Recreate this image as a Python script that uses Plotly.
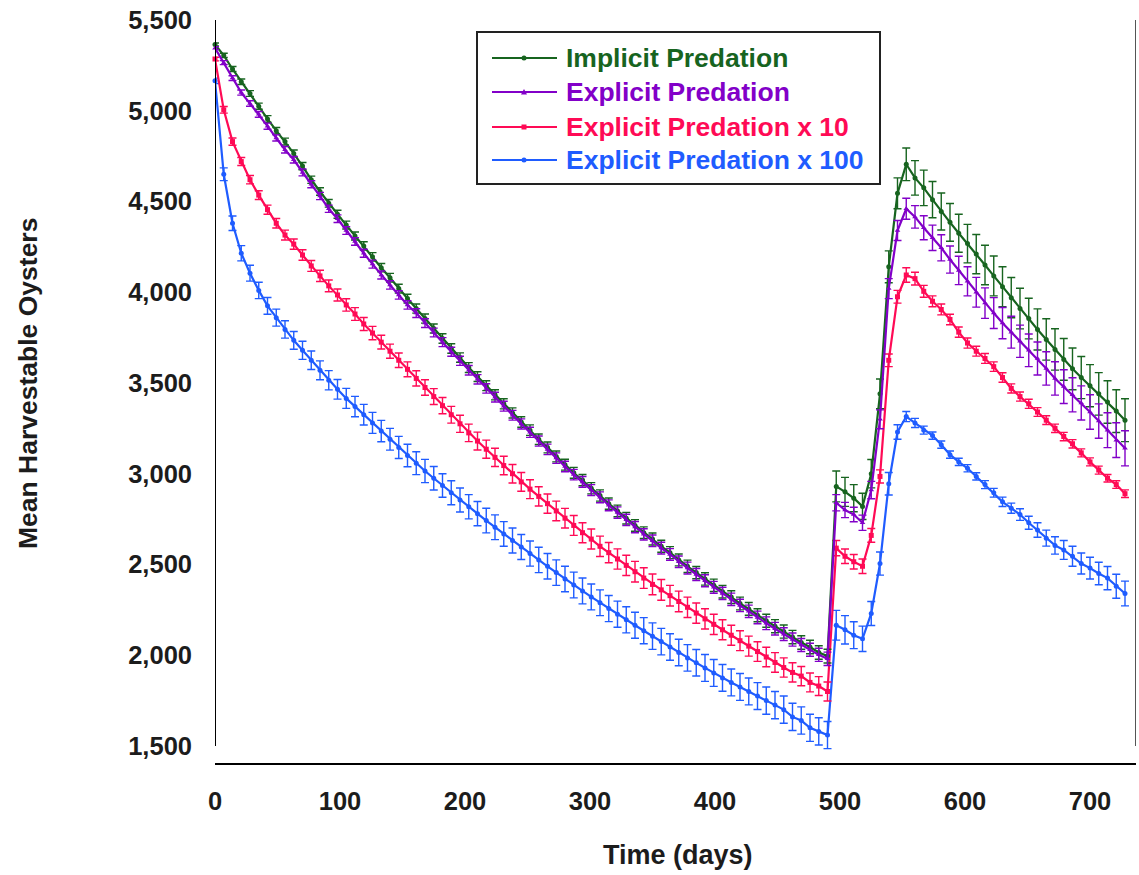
import plotly.graph_objects as go

# Sampling days (weekly) for every series
days = list(range(0, 735, 7))

# Mean harvestable oysters per scenario
implicit = [
    5365, 5305, 5230, 5160, 5095, 5025, 4955, 4890, 4830, 4765,
    4695, 4620, 4555, 4490, 4430, 4370, 4310, 4255, 4195, 4135,
    4080, 4020, 3965, 3910, 3855, 3800, 3745, 3690, 3640, 3585,
    3535, 3485, 3435, 3385, 3335, 3285, 3240, 3190, 3145, 3095,
    3050, 3005, 2965, 2920, 2880, 2835, 2795, 2755, 2715, 2675,
    2640, 2600, 2565, 2525, 2490, 2455, 2420, 2385, 2350, 2320,
    2285, 2255, 2220, 2190, 2160, 2130, 2100, 2070, 2045, 2015,
    1995,
    2930, 2900, 2865, 2820, 3000, 3440, 4140, 4545, 4705, 4630,
    4575, 4510, 4445, 4385, 4325, 4268, 4210, 4150, 4090, 4030,
    3970, 3910, 3855, 3795, 3740, 3685, 3630, 3578, 3530, 3485,
    3440, 3395, 3345, 3295,
]
explicit = [
    5345, 5265, 5180, 5100, 5040, 4980, 4915, 4850, 4785, 4730,
    4660, 4595, 4530, 4460, 4405, 4340, 4280, 4215, 4155, 4095,
    4040, 3985, 3930, 3885, 3830, 3778, 3725, 3672, 3622, 3570,
    3520, 3470, 3422, 3372, 3322, 3274, 3228, 3180, 3134, 3086,
    3040, 2995, 2955, 2910, 2870, 2826, 2786, 2746, 2706, 2666,
    2630, 2590, 2555, 2515, 2480, 2445, 2410, 2374, 2340, 2308,
    2274, 2242, 2208, 2176, 2146, 2116, 2086, 2056, 2030, 2002,
    1980,
    2840, 2800, 2775, 2730, 2910, 3300, 4020, 4340, 4460, 4415,
    4355, 4300, 4245, 4180, 4120, 4060, 4000, 3940, 3885, 3830,
    3780, 3730, 3680, 3635, 3580, 3525, 3480, 3435, 3390, 3340,
    3290, 3240, 3185, 3140,
]
explicit_x10 = [
    5285, 5005, 4830, 4720, 4620, 4535, 4455, 4380, 4315, 4265,
    4205, 4145, 4090, 4035, 3985, 3930, 3880, 3825, 3775, 3725,
    3675, 3625, 3575, 3525, 3475, 3425, 3375, 3325, 3275, 3225,
    3180, 3135, 3090, 3045, 3000, 2955, 2915, 2875, 2835, 2795,
    2755, 2715, 2675, 2640, 2600, 2565, 2530, 2495, 2460, 2425,
    2390, 2360, 2328, 2296, 2264, 2232, 2200, 2170, 2140, 2110,
    2080, 2050, 2020, 1990, 1960, 1932, 1905, 1885, 1850, 1830,
    1800,
    2590, 2545, 2515, 2490, 2660, 2985, 3625, 3975, 4095, 4075,
    4005, 3950, 3905, 3850, 3780, 3720, 3675, 3635, 3590, 3530,
    3470, 3425, 3385, 3340, 3295, 3250, 3205, 3165, 3115, 3065,
    3020, 2975, 2940, 2890,
]
explicit_x100 = [
    5165, 4650, 4380, 4215, 4105, 4010, 3925, 3860, 3795, 3735,
    3680, 3625, 3570, 3515, 3465, 3415, 3370, 3325, 3280, 3235,
    3190, 3145, 3100, 3058, 3015, 2975, 2935, 2895, 2855, 2818,
    2780, 2742, 2705, 2668, 2632, 2596, 2560, 2525, 2490, 2455,
    2420, 2387, 2354, 2321, 2289, 2257, 2226, 2195, 2165, 2135,
    2105, 2075, 2045, 2015, 1985, 1958, 1930, 1902, 1875, 1850,
    1825, 1800, 1775, 1750, 1725, 1700, 1660, 1640, 1600, 1580,
    1560,
    2165, 2140, 2110, 2090, 2230, 2505, 2945, 3230, 3315, 3280,
    3240, 3210, 3160, 3105, 3065, 3030, 2985, 2940, 2895, 2845,
    2810, 2775, 2730, 2690, 2645, 2605, 2580, 2545, 2505, 2480,
    2450, 2425, 2380, 2340,
]

# Error bar half-widths
implicit_err = [
    8, 12, 14, 15, 16, 17, 18, 18, 19, 19,
    20, 20, 21, 21, 22, 22, 22, 23, 23, 23,
    24, 24, 24, 25, 25, 25, 26, 26, 26, 27,
    27, 27, 28, 28, 28, 29, 29, 29, 30, 30,
    30, 30, 31, 31, 31, 31, 32, 32, 32, 32,
    33, 33, 33, 33, 34, 34, 34, 34, 35, 35,
    35, 35, 36, 36, 36, 36, 37, 37, 37, 37,
    38,
    85, 80, 75, 72, 78, 82, 88, 85, 90, 95,
    98, 100, 102, 104, 105, 106, 108, 109, 110, 110,
    111, 112, 112, 113, 114, 114, 115, 115, 116, 116,
    117, 117, 118, 118,
]
explicit_err = [
    8, 11, 13, 14, 15, 16, 17, 17, 18, 18,
    19, 19, 20, 20, 21, 21, 21, 22, 22, 22,
    23, 23, 23, 24, 24, 24, 25, 25, 25, 26,
    26, 26, 27, 27, 27, 28, 28, 28, 29, 29,
    29, 29, 30, 30, 30, 30, 31, 31, 31, 31,
    32, 32, 32, 32, 33, 33, 33, 33, 34, 34,
    34, 34, 35, 35, 35, 35, 36, 36, 36, 36,
    37,
    45, 42, 40, 42, 48, 52, 55, 55, 58, 62,
    66, 70, 72, 75, 78, 80, 82, 84, 85, 86,
    88, 89, 90, 91, 92, 92, 93, 94, 94, 95,
    95, 96, 96, 97,
]
explicit_x10_err = [
    10, 18, 20, 22, 23, 24, 25, 26, 27, 28,
    29, 30, 31, 32, 33, 34, 35, 36, 37, 38,
    39, 40, 41, 42, 43, 44, 45, 46, 47, 48,
    49, 50, 50, 51, 51, 52, 52, 53, 53, 54,
    54, 55, 55, 55, 56, 56, 56, 56, 57, 57,
    57, 57, 57, 57, 56, 56, 56, 56, 55, 55,
    55, 55, 54, 54, 54, 53, 53, 53, 52, 52,
    52,
    42, 40, 40, 40, 38, 36, 35, 35, 40, 35,
    33, 30, 30, 29, 28, 28, 27, 27, 26, 26,
    25, 25, 25, 24, 24, 23, 23, 23, 22, 22,
    22, 21, 21, 21,
]
explicit_x100_err = [
    15, 35, 40, 42, 44, 45, 46, 47, 48, 49,
    50, 51, 52, 53, 54, 55, 56, 57, 58, 59,
    60, 61, 62, 63, 64, 65, 65, 66, 66, 67,
    67, 68, 68, 68, 69, 69, 69, 70, 70, 70,
    70, 71, 71, 71, 71, 72, 72, 72, 72, 72,
    73, 73, 73, 73, 73, 73, 74, 74, 74, 74,
    74, 74, 74, 75, 75, 75, 75, 75, 75, 75,
    75,
    82, 78, 74, 70, 66, 64, 62, 40, 28, 25,
    22, 20, 20, 20, 20, 20, 20, 22, 24, 26,
    28, 32, 36, 40, 44, 48, 52, 55, 58, 60,
    62, 64, 66, 68,
]

series_names = ["Implicit Predation", "Explicit Predation",
                "Explicit Predation x 10", "Explicit Predation x 100"]
y_ticks = [1500, 2000, 2500, 3000, 3500, 4000, 4500, 5000, 5500]
x_ticks = [0, 100, 200, 300, 400, 500, 600, 700]

GREEN = "#17641f"
PURPLE = "#8200c8"
PINK = "#ff0a55"
BLUE = "#1f5cff"

W, H = 1139, 875
ML, MR, MT, MB = 215, 3, 20, 112
PW, PH = W - ML - MR, H - MT - MB
X_MAX = 736.8
Y_MIN, Y_MAX = 1406, 5500
FONT = "Arial, Liberation Sans, sans-serif"
TXT = "#1c1c1c"

fig = go.Figure()

styles = [
    (explicit_x100, explicit_x100_err, BLUE, "circle", 5),
    (explicit_x10, explicit_x10_err, PINK, "square", 5),
    (implicit, implicit_err, GREEN, "circle", 5),
    (explicit, explicit_err, PURPLE, "triangle-up", 5),
]
for vals, err, col, sym, ms in styles:
    fig.add_trace(go.Scatter(
        x=days, y=vals, mode="lines+markers",
        line=dict(color=col, width=2.2),
        marker=dict(color=col, symbol=sym, size=ms),
        error_y=dict(type="data", array=err, visible=True,
                     color=col, thickness=1.4, width=4),
        cliponaxis=False, showlegend=False,
    ))

fig.update_layout(
    width=W, height=H,
    margin=dict(l=ML, r=MR, t=MT, b=MB),
    paper_bgcolor="white", plot_bgcolor="white",
    font=dict(family=FONT, color=TXT),
)
fig.update_xaxes(
    range=[0, X_MAX], tickvals=x_ticks, ticks="", showgrid=False,
    zeroline=False, showline=True, linecolor="black", linewidth=2,
    tickfont=dict(family=FONT, size=25.5, color=TXT, weight="bold"),
    ticklabelstandoff=14,
)
fig.update_yaxes(
    range=[Y_MIN, Y_MAX], tickvals=y_ticks, tickformat=",d", ticks="",
    showgrid=False, zeroline=False, showline=False,
    tickfont=dict(family=FONT, size=25.5, color=TXT, weight="bold"),
    ticklabelstandoff=22,
)

# Axis frame: left and right rules stop at the lowest tick
fig.add_shape(type="line", xref="x", yref="y", x0=0, x1=0,
              y0=y_ticks[0], y1=Y_MAX, line=dict(color="black", width=2))
fig.add_shape(type="line", xref="x", yref="y", x0=X_MAX, x1=X_MAX,
              y0=y_ticks[0], y1=Y_MAX, line=dict(color="#555555", width=2))

# Axis titles
fig.add_annotation(text="Time (days)", xref="paper", yref="paper",
                   x=(678 - ML) / PW, y=0, yshift=-92, showarrow=False,
                   xanchor="center", yanchor="middle",
                   font=dict(family=FONT, size=27, color=TXT, weight="bold"))
fig.add_annotation(text="Mean Harvestable Oysters", xref="paper", yref="paper",
                   x=0, xshift=28 - ML, y=(MT + PH - 384) / PH, textangle=-90,
                   showarrow=False, xanchor="center", yanchor="middle",
                   font=dict(family=FONT, size=26.5, color=TXT, weight="bold"))


def px(xp):
    return (xp - ML) / PW


def py(yp):
    return (MT + PH - yp) / PH


# Legend box
fig.add_shape(type="rect", xref="paper", yref="paper",
              x0=px(477), x1=px(880), y0=py(184), y1=py(32),
              line=dict(color="#222222", width=2), fillcolor="white", layer="above")
legend_rows = [58, 92, 127, 160]
legend_cols = [GREEN, PURPLE, PINK, BLUE]
legend_syms = ["circle", "triangle", "square", "circle"]
for name, col, sym, ry in zip(series_names, legend_cols, legend_syms, legend_rows):
    fig.add_shape(type="line", xref="paper", yref="paper",
                  x0=px(492), x1=px(557), y0=py(ry), y1=py(ry),
                  line=dict(color=col, width=2), layer="above")
    if sym == "square":
        fig.add_shape(type="rect", xref="paper", yref="paper",
                      x0=px(521.5), x1=px(526.5), y0=py(ry + 2.5), y1=py(ry - 2.5),
                      line=dict(width=0), fillcolor=col, layer="above")
    elif sym == "triangle":
        x0, x1, xm = px(521), px(527), px(524)
        path = f"M {x0} {py(ry + 2.5)} L {x1} {py(ry + 2.5)} L {xm} {py(ry - 3)} Z"
        fig.add_shape(type="path", xref="paper", yref="paper", path=path,
                      line=dict(width=0), fillcolor=col, layer="above")
    else:
        fig.add_shape(type="circle", xref="paper", yref="paper",
                      x0=px(521.5), x1=px(526.5), y0=py(ry + 2.5), y1=py(ry - 2.5),
                      line=dict(width=0), fillcolor=col, layer="above")
    fig.add_annotation(text=name, xref="paper", yref="paper",
                       x=px(564), y=py(ry), showarrow=False,
                       xanchor="left", yanchor="middle",
                       font=dict(family=FONT, size=26.5, color=col, weight="bold"))

fig.write_html("out.html")
